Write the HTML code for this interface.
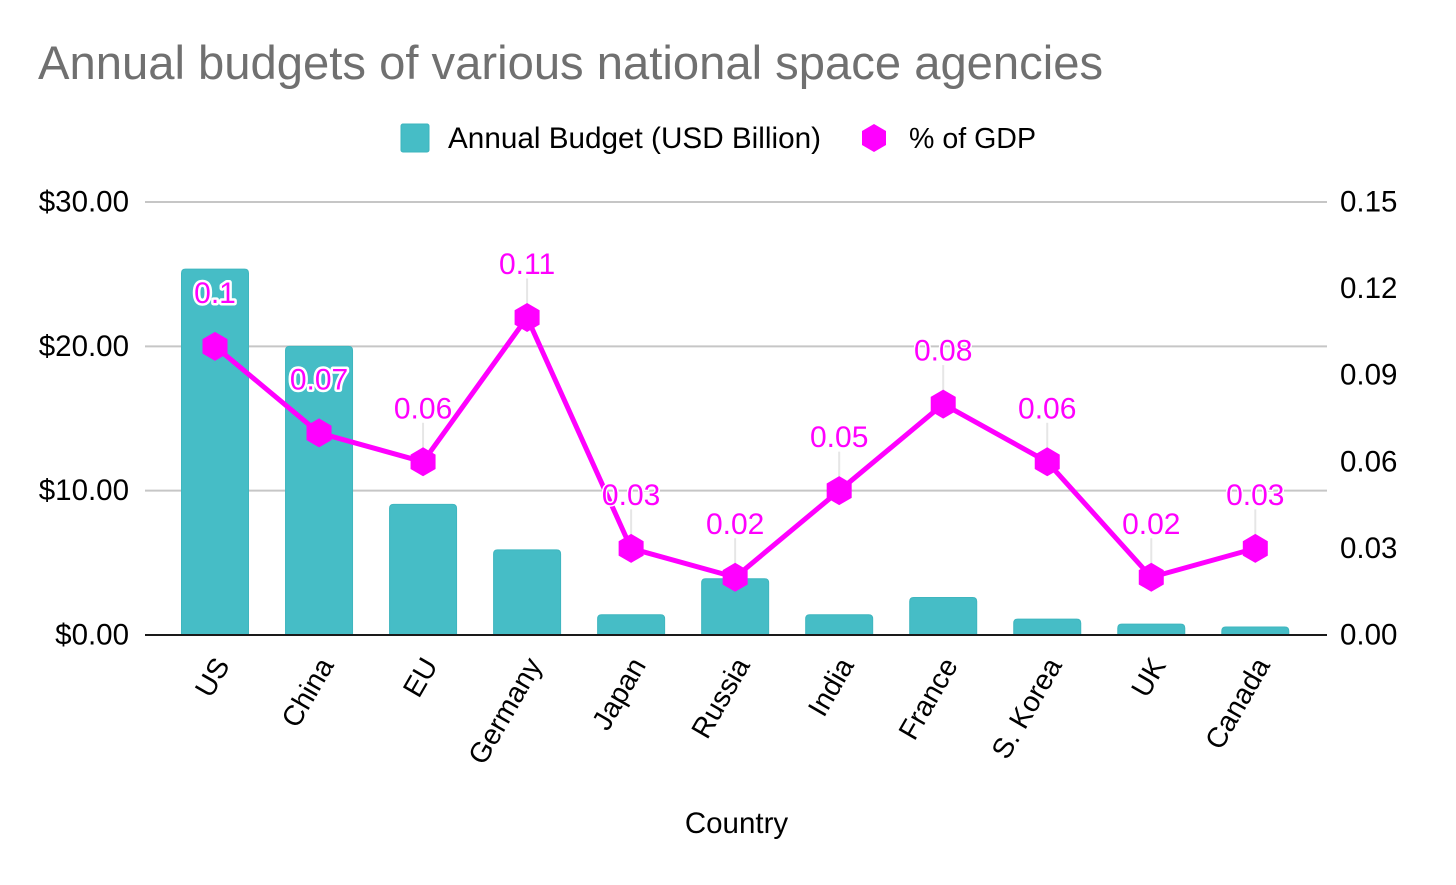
<!DOCTYPE html>
<html>
<head>
<meta charset="utf-8">
<title>Annual budgets of various national space agencies</title>
<style>
html,body{margin:0;padding:0;background:#fff;}
svg{display:block;font-family:"Liberation Sans",sans-serif;}
</style>
</head>
<body>
<svg id="chart" width="1456" height="885" viewBox="0 0 1456 885" xmlns="http://www.w3.org/2000/svg">
<rect width="1456" height="885" fill="#fff"/>
<text x="38" y="79" font-size="47.2" fill="#707070">Annual budgets of various national space agencies</text>
<g>
<rect x="401" y="124" width="28" height="28" rx="2" fill="#46bdc6" stroke="#3cb5be"/>
<text x="448" y="148" font-size="29.5" fill="#000" textLength="373" lengthAdjust="spacingAndGlyphs">Annual Budget (USD Billion)</text>
<polygon points="874,124 886,131 886,145 874,152 862,145 862,131" fill="#ff00ff"/>
<text x="909" y="148" font-size="29" fill="#000" textLength="127" lengthAdjust="spacingAndGlyphs">% of GDP</text>
</g>
<g id="grid"></g>
<g id="bars"></g>
<g id="axis"></g>
<g id="leaders"></g>
<g id="line"></g>
<g id="labels"></g>
<g id="ticks"></g>
<text x="736.5" y="833" font-size="29.5" text-anchor="middle" fill="#000">Country</text>
</svg>
<script>
const categories = ["US","China","EU","Germany","Japan","Russia","India","France","S. Korea","UK","Canada"];
const budgetValues = [25.35,20,9.05,5.9,1.4,3.9,1.4,2.6,1.1,0.75,0.55];
const gdpValues = [0.1,0.07,0.06,0.11,0.03,0.02,0.05,0.08,0.06,0.02,0.03];
const gdpLabels = ["0.1","0.07","0.06","0.11","0.03","0.02","0.05","0.08","0.06","0.02","0.03"];
const leftTicks = [0,10,20,30];
const leftTickLabels = ["$0.00","$10.00","$20.00","$30.00"];
const rightTicks = [0,0.03,0.06,0.09,0.12,0.15];
const rightTickLabels = ["0.00","0.03","0.06","0.09","0.12","0.15"];

const NS = "http://www.w3.org/2000/svg";
const y0 = 635, yTop = 202, leftMax = 30, rightMax = 0.15;
const xPos = i => 215 + 104.03 * i;
const yLeft = v => y0 - (v / leftMax) * (y0 - yTop);
const yRight = v => y0 - (v / rightMax) * (y0 - yTop);
function mk(tag, attrs, parent, txt) {
  const el = document.createElementNS(NS, tag);
  for (const k in attrs) el.setAttribute(k, attrs[k]);
  if (txt !== undefined) el.textContent = txt;
  document.getElementById(parent).appendChild(el);
  return el;
}
leftTicks.forEach((t, i) => {
  if (t !== 0) {
    const g = mk("line", {x1:145, x2:1327, y1:yLeft(t), y2:yLeft(t), stroke:"#c6c6c6", "stroke-width":2}, "grid");
    
    
  }
  const l = mk("text", {x:129, y:yLeft(t)+9.5, "font-size":29.5, "text-anchor":"end", fill:"#000"}, "ticks", leftTickLabels[i]);
  
  
});
rightTicks.forEach((t, i) => {
  const l = mk("text", {x:1340, y:yRight(t)+9.5, "font-size":29.5, fill:"#000"}, "ticks", rightTickLabels[i]);
  
  
});
budgetValues.forEach((v, i) => {
  const x = xPos(i) - 33.5, y = yLeft(v), w = 67, h = y0 - y, r = Math.min(4, h);
  const b = mk("path", {d:`M${x} ${y0}V${y+r}Q${x} ${y} ${x+r} ${y}H${x+w-r}Q${x+w} ${y} ${x+w} ${y+r}V${y0}Z`, fill:"#46bdc6", stroke:"#3fb6bf", "stroke-width":1}, "bars");
  
  
});
const ax = mk("line", {x1:145, x2:1327, y1:y0, y2:y0, stroke:"#1a1a1a", "stroke-width":2}, "axis");


const pts = gdpValues.map((v, i) => xPos(i) + "," + yRight(v)).join(" ");
const pl = mk("polyline", {points:pts, fill:"none", stroke:"#ff00ff", "stroke-width":5, "stroke-linejoin":"round"}, "line");


gdpValues.forEach((v, i) => {
  const x = xPos(i), y = yRight(v);
  const m = mk("polygon", {points:`${x},${y-14.5} ${x+12.5},${y-7.2} ${x+12.5},${y+7.2} ${x},${y+14.5} ${x-12.5},${y+7.2} ${x-12.5},${y-7.2}`, fill:"#ff00ff"}, "line");
  
  
  const onBar = yRight(v) - 53 > yLeft(budgetValues[i]);
  if (!onBar) {
    const ld = mk("line", {x1:x, x2:x, y1:y-39, y2:y-14, stroke:"#e6e6e6", "stroke-width":2}, "leaders");
    
    
  }
  const attrs = {x:x, y:y-43.5, "font-size":30, "text-anchor":"middle", fill:"#ff00ff", stroke:"#fff", "paint-order":"stroke", "stroke-linejoin":"round"};
  attrs["stroke-width"] = onBar ? 5 : 3;
  const t = mk("text", attrs, "labels", gdpLabels[i]);
  
  
  const c = mk("text", {"font-size":28.5, "text-anchor":"end", fill:"#000", transform:`translate(${x+15.5} 665) rotate(-60)`}, "ticks", categories[i]);
  
  
});
</script>
</body>
</html>
